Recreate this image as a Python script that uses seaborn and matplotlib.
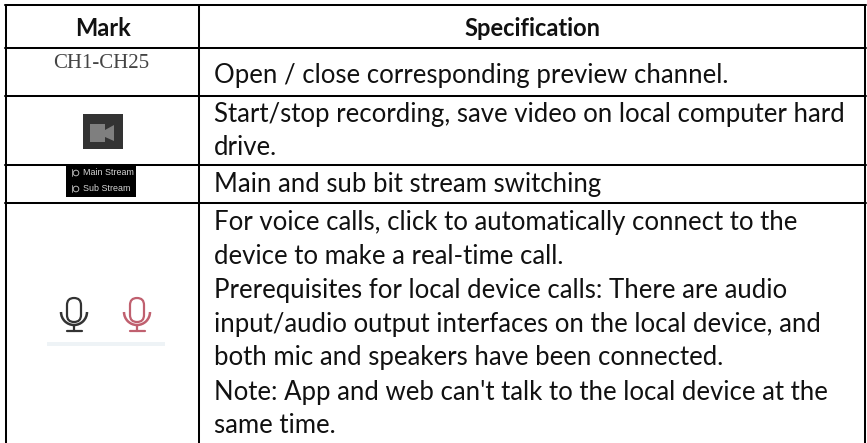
import matplotlib
matplotlib.use('Agg')
import matplotlib.pyplot as plt
import matplotlib.patches as mpatches
import pandas as pd
import seaborn as sns

#######################
#
# TABLE CONTENT
#
#######################
HEADERS = ['Mark', 'Specification']
CHANNEL_LABEL = 'CH1-CH25'
STREAM_LABELS = ['Main Stream', 'Sub Stream']
SPEC_LINES = [
    ('Open / close corresponding preview channel.', 83),
    ('Start/stop recording, save video on local computer hard', 122),
    ('drive.', 155),
    ('Main and sub bit stream switching', 192),
    ('For voice calls, click to automatically connect to the', 230),
    ('device to make a real-time call.', 264),
    ('Prerequisites for local device calls: There are audio', 298),
    ('input/audio output interfaces on the local device, and', 332),
    ('both mic and speakers have been connected.', 365),
    ('Note: App and web can\'t talk to the local device at the', 400),
    ('same time.', 433),
]

# rules of the table, in pixels of the picture
ROW_EDGES = [5, 48, 96, 165, 202.5]
COL_EDGES = [6, 199, 865]
WIDTH = 867
HEIGHT = 443
TEXT_FONT = 'Lato'
TEXT_SIZE = 18.5
HEADER_SIZE = 17


def draw_rules(ax):
    rows = []
    for i, y in enumerate(ROW_EDGES):
        rows.append({'rule': f'h{i}', 'x': COL_EDGES[0] - 1, 'y': y})
        rows.append({'rule': f'h{i}', 'x': COL_EDGES[-1] + 1, 'y': y})
    for i, x in enumerate(COL_EDGES):
        rows.append({'rule': f'v{i}', 'x': x, 'y': ROW_EDGES[0]})
        rows.append({'rule': f'v{i}', 'x': x, 'y': HEIGHT})
    rules_df = pd.DataFrame(rows)
    sns.lineplot(data=rules_df, x='x', y='y', units='rule', estimator=None, sort=False,
                 color='black', linewidth=1.45, ax=ax, legend=False)


def draw_camera(ax):
    ax.add_patch(mpatches.Rectangle((83, 114), 40, 35, color='#333333', lw=0))
    ax.add_patch(mpatches.Rectangle((89.5, 124), 15.5, 18, color='#7f7f7f', lw=0))
    ax.add_patch(mpatches.Polygon([(105, 130), (114, 125), (114, 141), (105, 137)], color='#7f7f7f', lw=0))


def draw_streams(ax):
    ax.add_patch(mpatches.Rectangle((66, 165), 70, 32, color='black', lw=0))
    for label, y in zip(STREAM_LABELS, [172.5, 188.5]):
        ax.add_patch(mpatches.Circle((76, y + 0.5), 2.8, fill=False, ec='#b5b5b5', lw=0.7))
        ax.plot([71.5, 71.5], [y - 4, y + 3], color='#b5b5b5', lw=0.6)
        ax.text(83, y, label, family='Liberation Sans', fontsize=6.4, color='#d8d8d8',
                va='center', ha='left')


def draw_mic(ax, cx, color):
    ax.add_patch(mpatches.FancyBboxPatch((cx - 7, 298), 14, 24, boxstyle='round,pad=0,rounding_size=7',
                                         fill=False, ec=color, lw=1.6))
    ax.add_patch(mpatches.Arc((cx, 312), 26, 26, theta1=0, theta2=180, ec=color, lw=1.8))
    ax.plot([cx, cx], [325, 331], color=color, lw=1.6)
    ax.plot([cx - 7.5, cx + 7.5], [331, 331], color=color, lw=1.6)


sns.set_theme(style='white')
plt.rcParams['font.family'] = [TEXT_FONT, 'DejaVu Sans']

fig, ax = plt.subplots(figsize=(WIDTH / 100, HEIGHT / 100), dpi=100)
ax.set_position([0, 0, 1, 1])

draw_rules(ax)
draw_camera(ax)
draw_streams(ax)

# pale strip left under the microphones
ax.add_patch(mpatches.Rectangle((47, 342), 118, 4, color='#eef3f6', lw=0))
draw_mic(ax, 74, '#333333')
draw_mic(ax, 137, '#c0606f')

ax.text(103, 36, HEADERS[0], fontsize=HEADER_SIZE, fontweight='bold', color='#111111', ha='center', va='baseline')
ax.text(532, 36, HEADERS[1], fontsize=HEADER_SIZE, fontweight='bold', color='#111111', ha='center', va='baseline')
ax.text(101, 63, CHANNEL_LABEL, family='Liberation Serif', fontsize=15, color='#444444', ha='center', va='center')

for line, y in SPEC_LINES:
    ax.text(214, y, line, fontsize=TEXT_SIZE, color='#111111', ha='left', va='baseline')

ax.set_xlim(0, WIDTH)
ax.set_ylim(HEIGHT, 0)
ax.set_xlabel('')
ax.set_ylabel('')
ax.axis('off')
fig.savefig('out.png', dpi=100)
